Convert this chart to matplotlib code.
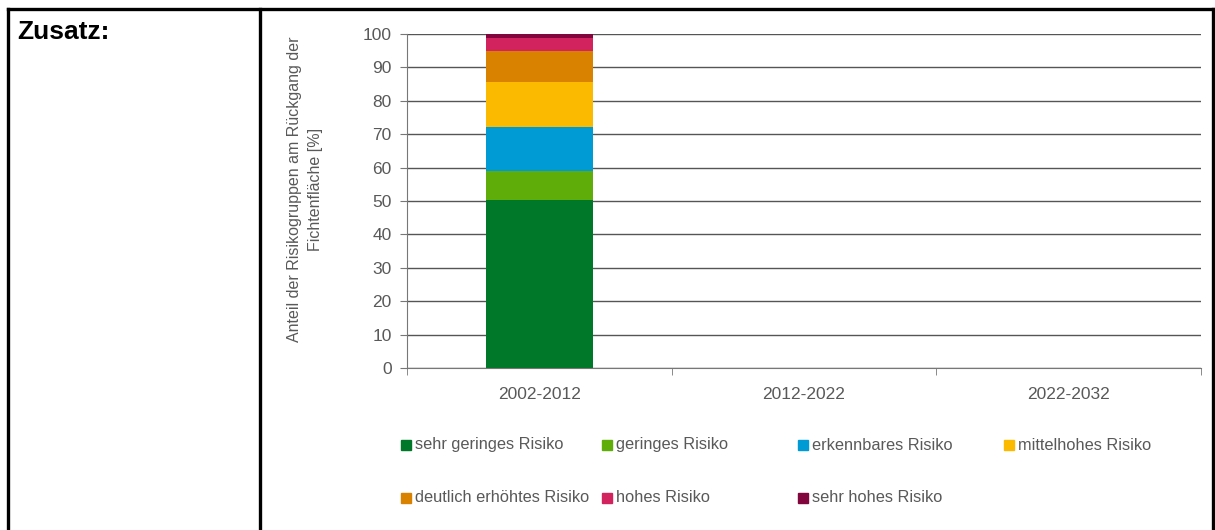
import matplotlib
matplotlib.use("Agg")
import matplotlib.pyplot as plt
from matplotlib.patches import Rectangle
from matplotlib.lines import Line2D

categories = ["2002-2012", "2012-2022", "2022-2032"]
groups = ["sehr geringes Risiko", "geringes Risiko", "erkennbares Risiko",
          "mittelhohes Risiko", "deutlich erhöhtes Risiko", "hohes Risiko",
          "sehr hohes Risiko"]
values = {
    "sehr geringes Risiko": [50.3, 0, 0],
    "geringes Risiko": [8.7, 0, 0],
    "erkennbares Risiko": [13.2, 0, 0],
    "mittelhohes Risiko": [13.4, 0, 0],
    "deutlich erhöhtes Risiko": [9.3, 0, 0],
    "hohes Risiko": [4.0, 0, 0],
    "sehr hohes Risiko": [1.1, 0, 0],
}
colors = ["#00782A", "#5FAD08", "#009AD5", "#FBBA00", "#D88200", "#D3235F", "#82063D"]
yticks = list(range(0, 101, 10))

plt.rcParams['font.family'] = ['Liberation Sans', 'DejaVu Sans']
W, H = 1215, 530
fig = plt.figure(figsize=(W / 100, H / 100), dpi=100)

def fx(px):
    return px / W

def fy(py):
    return 1 - py / H

# frame lines
fig.add_artist(Line2D([fx(8), fx(1213)], [fy(9), fy(9)], color="black", lw=2.4))
fig.add_artist(Line2D([fx(8), fx(8)], [fy(9), fy(535)], color="black", lw=2.4))
fig.add_artist(Line2D([fx(260), fx(260)], [fy(9), fy(535)], color="black", lw=2.4))
fig.add_artist(Line2D([fx(1213), fx(1213)], [fy(9), fy(535)], color="black", lw=2.4))
fig.text(fx(17), fy(32), "Zusatz:", fontsize=19, fontweight="bold", va="center", ha="left")

ax = fig.add_axes([fx(407), fy(368), fx(1201) - fx(407), (368 - 34) / H])
gray = "#595959"
x = list(range(len(categories)))
bottom = [0.0] * len(categories)
for g, c in zip(groups, colors):
    v = values[g]
    ax.bar(x, v, bottom=bottom, width=0.405, color=c, label=g, zorder=3)
    bottom = [b + vv for b, vv in zip(bottom, v)]

ax.set_xlim(-0.5, len(categories) - 0.5)
ax.set_ylim(0, 100)
ax.set_yticks(yticks)
ax.yaxis.grid(True, color="#555555", lw=1.0, zorder=0)
ax.set_axisbelow(True)
ax.set_xticks(x)
ax.set_xticklabels(categories)
ax.set_xticks([i - 0.5 for i in range(len(categories) + 1)], minor=True)
ax.tick_params(axis="x", which="major", length=0, pad=14, labelsize=12.5, labelcolor=gray)
ax.tick_params(axis="x", which="minor", length=5, color="#777777", direction="out")
ax.tick_params(axis="y", length=5, color="#777777", direction="out", labelsize=12.5,
               labelcolor=gray, pad=6)
for s in ["top", "right"]:
    ax.spines[s].set_visible(False)
ax.spines["left"].set_color("#777777")
ax.spines["bottom"].set_color("#777777")
fig.text(fx(305), fy(189), "Anteil der Risikogruppen am Rückgang der\nFichtenfläche [%]",
         rotation=90, ha="center", va="center", fontsize=11.5, color=gray,
         multialignment="center", linespacing=1.45)

# legend (Excel-like uniform columns)
col_x = [401, 602, 798, 1004]
row_y = [445, 498]
for i, (g, c) in enumerate(zip(groups, colors)):
    r, k = divmod(i, 4)
    px = col_x[k]
    py = row_y[r]
    fig.add_artist(Rectangle((fx(px), fy(py + 5)), 10 / W, 10 / H, color=c))
    fig.text(fx(px + 14), fy(py), g, fontsize=11.8, color=gray, va="center", ha="left")

fig.savefig("out.png", dpi=100)
